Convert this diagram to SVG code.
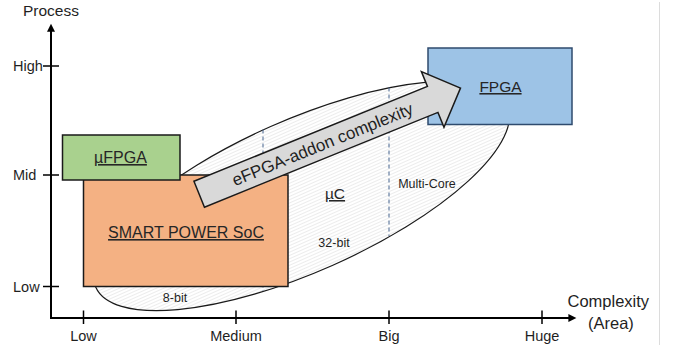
<svg xmlns="http://www.w3.org/2000/svg" width="677" height="349" viewBox="0 0 677 349">
  <style>
    text { font-family: "Liberation Sans", Arial, sans-serif; fill: #1f1f1f; }
    .axis { stroke: #000; stroke-width: 2; fill: none; }
    .tick { stroke: #000; stroke-width: 1.5; }
    .lbl { font-size: 14.5px; }
    .small { font-size: 12.5px; text-anchor: middle; }
    .box { stroke: #1a1a1a; stroke-width: 1.5; }
    .title { text-anchor: middle; text-decoration: underline; fill: #262626; }
    .split { stroke: #46658f; stroke-width: 1; stroke-dasharray: 4 3; }
  </style>
  <defs>
    <marker id="axisHead" viewBox="0 0 10 10" markerUnits="userSpaceOnUse" markerWidth="9" markerHeight="8" refX="3.3" refY="5" orient="auto">
      <path d="M0,0 L10,5 L0,10 Z" fill="#000"/>
    </marker>
    <pattern id="hatch" width="4" height="3" patternUnits="userSpaceOnUse">
      <rect width="4" height="3" fill="#fff"/>
      <line x1="0" y1="1.5" x2="4" y2="1.5" stroke="#ececec" stroke-width="1"/>
    </pattern>
  </defs>

  <!-- frame edge on the right -->
  <line x1="659.5" y1="2" x2="659.5" y2="345" stroke="#dcdcdc" stroke-width="1"/>

  <!-- axes -->
  <g id="axes">
    <line class="axis" x1="51" y1="318" x2="51" y2="29" marker-end="url(#axisHead)"/>
    <line class="axis" x1="50" y1="318" x2="571" y2="318" marker-end="url(#axisHead)"/>
    <line class="tick" x1="43" y1="66" x2="59" y2="66"/>
    <line class="tick" x1="43" y1="175" x2="59" y2="175"/>
    <line class="tick" x1="43" y1="286.5" x2="59" y2="286.5"/>
    <line class="tick" x1="83.5" y1="310.5" x2="83.5" y2="324"/>
    <line class="tick" x1="236" y1="310.5" x2="236" y2="324"/>
    <line class="tick" x1="389" y1="310.5" x2="389" y2="324"/>
    <line class="tick" x1="542" y1="310.5" x2="542" y2="324"/>
    <text x="51" y="16" font-size="15.5" text-anchor="middle">Process</text>
    <text class="lbl" x="13" y="71">High</text>
    <text class="lbl" x="13" y="180">Mid</text>
    <text class="lbl" x="13" y="292">Low</text>
    <text class="lbl" x="83.5" y="341" text-anchor="middle">Low</text>
    <text class="lbl" x="236" y="341" text-anchor="middle">Medium</text>
    <text class="lbl" x="389" y="341" text-anchor="middle">Big</text>
    <text class="lbl" x="542" y="341" text-anchor="middle">Huge</text>
    <text x="567.5" y="307" font-size="16.5">Complexity</text>
    <text x="588" y="329" font-size="16.5">(Area)</text>
  </g>

  <!-- microcontroller region -->
  <g id="uc-region">
    <ellipse cx="0" cy="0" rx="225" ry="76" transform="translate(301.5,196) rotate(-23.9)" fill="url(#hatch)" stroke="#1a1a1a" stroke-width="1.2"/>
    <line class="split" x1="263" y1="129.5" x2="263" y2="291"/>
    <line class="split" x1="389" y1="87.5" x2="389" y2="236"/>
    <text x="335" y="199" font-size="15.5" class="title">µC</text>
    <text class="small" x="334" y="247">32-bit</text>
    <text class="small" x="427" y="188">Multi-Core</text>
    <text class="small" x="175" y="301.5">8-bit</text>
  </g>

  <g id="soc">
    <rect class="box" x="83.5" y="175" width="204.5" height="111.5" fill="#f4b183"/>
    <text x="186" y="238" font-size="16" class="title">SMART POWER SoC</text>
  </g>

  <g id="ufpga">
    <rect class="box" x="62.5" y="135" width="117.5" height="45" fill="#a9d18e"/>
    <text x="120.5" y="163" font-size="16" class="title">µFPGA</text>
  </g>

  <g id="fpga">
    <rect x="428" y="48" width="144" height="76.5" fill="#9dc3e6" stroke="#2f4b6e" stroke-width="1.5"/>
    <text x="500.5" y="92" font-size="15.5" class="title">FPGA</text>
  </g>

  <!-- eFPGA add-on block arrow -->
  <g id="connectors">
    <g transform="translate(199.2,194.2) rotate(-22.1)">
      <path d="M0,-14 L252,-14 L252,-30 L282,0 L252,30 L252,14 L0,14 Z" fill="#d9d9d9" stroke="#1a1a1a" stroke-width="1.5" stroke-linejoin="miter"/>
      <text x="133" y="6" font-size="17" text-anchor="middle">eFPGA-addon complexity</text>
    </g>
  </g>
</svg>
